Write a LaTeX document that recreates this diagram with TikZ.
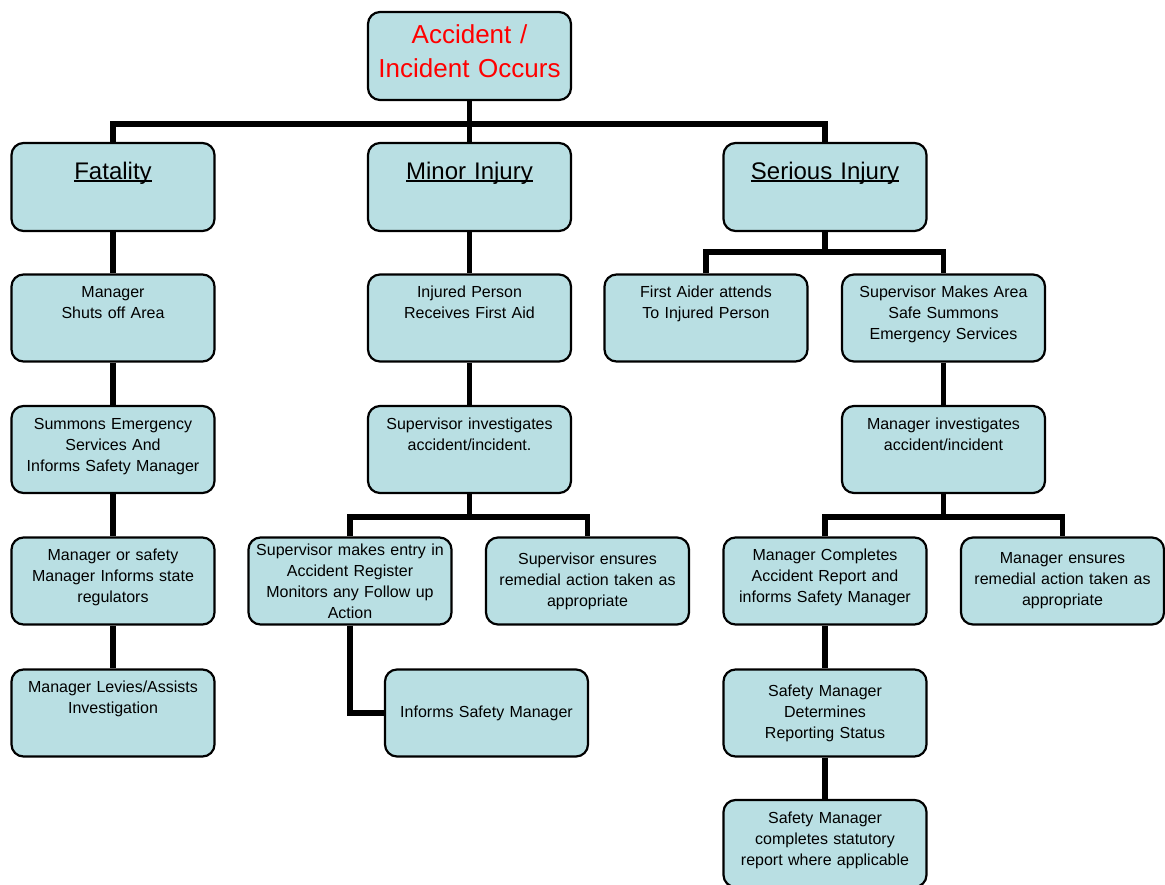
\documentclass[tikz,border=0pt]{standalone}
\usepackage{fontspec}
\setmainfont{Liberation Sans}
\definecolor{boxBlue}{RGB}{185,223,227}
\newlength\headwd
\newcommand{\headline}[1]{\settowidth{\headwd}{#1}\rlap{\rule[-2.6pt]{\headwd}{1.3pt}}#1}
\begin{document}
\begin{tikzpicture}[x=1pt, y=-1pt,
  box/.style={draw, line width=2.2pt, rounded corners=12pt, fill=boxBlue, text width=200pt, inner xsep=1.5pt, align=center, font=\fontsize{16}{21}\selectfont},
  topbox/.style={box, inner ysep=0pt, text height=23pt, text depth=64pt},
  midbox/.style={box, minimum height=87pt},
  headbox/.style={box, inner ysep=0pt, text height=36pt, text depth=52pt, font=\fontsize{24}{30}\selectfont},
  link/.style={line width=5.5pt}]
\useasboundingbox (0,0) rectangle (1165,884);
\node[box, inner ysep=0pt, text height=31.5pt, text depth=56.5pt, text=red, font=\fontsize{26}{34}\selectfont] (accident) at (469.5,56) {Accident /\\Incident Occurs};
\node[headbox] (fatal) at (113,187) {\headline{Fatality}};
\node[headbox] (minor) at (469.5,187) {\headline{Minor Injury}};
\node[headbox] (serious) at (825,187) {\headline{Serious Injury}};
% fatality branch
\node[topbox] (shuts) at (113,318) {Manager\\Shuts off Area};
\node[topbox] (summons) at (113,449.5) {Summons Emergency\\Services And\\Informs Safety Manager};
\node[topbox] (regulators) at (113,581) {Manager or safety\\Manager Informs state\\regulators};
\node[topbox] (levies) at (113,713) {Manager Levies/Assists\\Investigation};
% minor injury branch
\node[topbox] (firstaid) at (469.5,318) {Injured Person\\Receives First Aid};
\node[topbox] (invest) at (469.5,449.5) {Supervisor investigates\\accident/incident.};
\node[midbox] (entry) at (350,581) {Supervisor makes entry in\\Accident Register\\Monitors any Follow up\\Action};
\node[midbox] (remedial) at (587.5,581) {Supervisor ensures\\remedial action taken as\\appropriate};
\node[midbox] (informs) at (486.5,713) {Informs Safety Manager};
% serious injury branch
\node[topbox] (aider) at (706,318) {First Aider attends\\To Injured Person};
\node[topbox] (safe) at (943.5,318) {Supervisor Makes Area\\Safe Summons\\Emergency Services};
\node[topbox] (mgrinv) at (943.5,449.5) {Manager investigates\\accident/incident};
\node[topbox] (report) at (825,581) {Manager Completes\\Accident Report and\\informs Safety Manager};
\node[midbox] (mgrrem) at (1062.5,581) {Manager ensures\\remedial action taken as\\appropriate};
\node[midbox] (status) at (825,713) {Safety Manager\\Determines\\Reporting Status};
\node[topbox] (statutory) at (825,843.5) {Safety Manager\\completes statutory\\report where applicable};
\coordinate (busA) at (469.5,124);
\coordinate (busB) at (825,252);
\coordinate (busC) at (469.5,517);
\coordinate (busD) at (943.5,517);
\draw[link] (accident.south) -- (minor.north);
\draw[link] (fatal.north) |- (busA) -| (serious.north);
\draw[link] (fatal) -- (shuts) (shuts) -- (summons) (summons) -- (regulators) (regulators) -- (levies);
\draw[link] (minor) -- (firstaid) (firstaid) -- (invest) (invest.south) -- (busC);
\draw[link] (entry.north) |- (busC) -| (remedial.north);
\draw[link] (entry.south) |- (informs.west);
\draw[link] (serious.south) -- (busB);
\draw[link] (aider.north) |- (busB) -| (safe.north);
\draw[link] (safe) -- (mgrinv) (mgrinv.south) -- (busD);
\draw[link] (report.north) |- (busD) -| (mgrrem.north);
\draw[link] (report) -- (status) (status) -- (statutory);
\end{tikzpicture}
\end{document}
